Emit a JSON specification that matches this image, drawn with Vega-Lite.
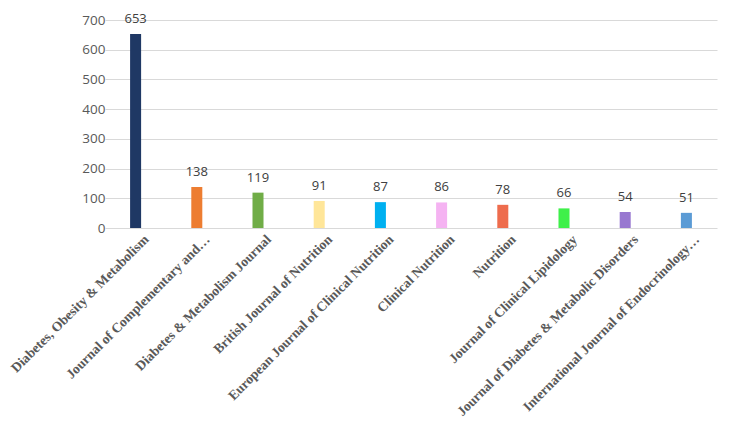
{
  "$schema": "https://vega.github.io/schema/vega-lite/v6.json",
  "width": 613,
  "height": 208,
  "autosize": {"type": "none"},
  "padding": {"left": 118, "top": 20, "right": 20, "bottom": 211},
  "background": "white",
  "data": {"values": [
    {"journal": "Diabetes, Obesity & Metabolism", "count": 653, "color": "#1f3864"},
    {"journal": "Journal of Complementary and…", "count": 138, "color": "#ed7d31"},
    {"journal": "Diabetes & Metabolism Journal", "count": 119, "color": "#70ad47"},
    {"journal": "British Journal of Nutrition", "count": 91, "color": "#ffe699"},
    {"journal": "European Journal of Clinical Nutrition", "count": 87, "color": "#00b0f0"},
    {"journal": "Clinical Nutrition", "count": 86, "color": "#f5b3f2"},
    {"journal": "Nutrition", "count": 78, "color": "#ee6c4d"},
    {"journal": "Journal of Clinical Lipidology", "count": 66, "color": "#3ff04a"},
    {"journal": "Journal of Diabetes & Metabolic Disorders", "count": 54, "color": "#9878d0"},
    {"journal": "International Journal of Endocrinology…", "count": 51, "color": "#5b9bd5"}
  ]},
  "encoding": {
    "x": {
      "field": "journal", "type": "nominal", "sort": null,
      "scale": {"range": [-13, 599], "paddingInner": 0.82, "paddingOuter": 0.41},
      "axis": {
        "title": null, "labelAngle": -45, "labelAlign": "right", "labelBaseline": "middle",
        "labelFont": "Liberation Serif", "labelFontWeight": "bold", "labelFontSize": 13.6,
        "labelColor": "#595959", "labelLimit": 400, "ticks": false, "domain": false,
        "labelPadding": 9, "labelOffset": 11, "grid": false
      }
    },
    "y": {
      "field": "count", "type": "quantitative",
      "scale": {"domain": [0, 700]},
      "axis": {
        "title": null, "values": [0, 100, 200, 300, 400, 500, 600, 700],
        "labelFont": "Open Sans", "labelFontSize": 13.5, "labelColor": "#595959",
        "ticks": false, "domain": false, "labelPadding": 13,
        "gridColor": "#d9d9d9", "gridWidth": 1
      }
    }
  },
  "layer": [
    {
      "mark": {"type": "bar"},
      "encoding": {"color": {"field": "color", "type": "nominal", "scale": null}}
    },
    {
      "mark": {"type": "text", "baseline": "bottom", "dy": -8, "font": "Open Sans", "fontSize": 13, "color": "#404040"},
      "encoding": {"text": {"field": "count", "type": "quantitative"}}
    }
  ],
  "config": {"view": {"stroke": null}}
}
